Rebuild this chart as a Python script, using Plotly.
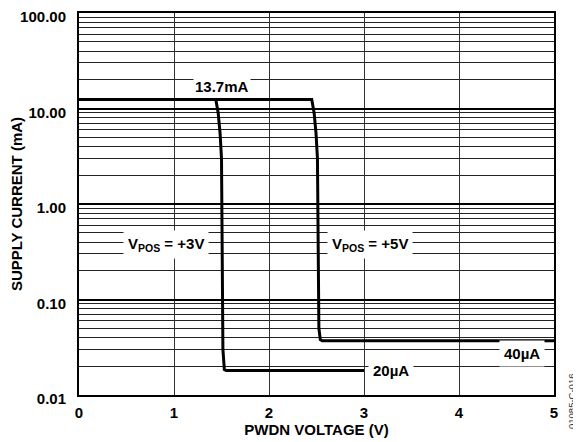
import math
import plotly.graph_objects as go

# Data
v3_x = [0, 1.44, 1.465, 1.485, 1.50, 1.505, 1.51, 1.515, 1.53, 1.55, 3.0]
v3_y = [12.4, 12.4, 9.0, 5.5, 3.0, 1.0, 0.1, 0.03, 0.0185, 0.018, 0.018]
v5_x = [0, 2.45, 2.475, 2.495, 2.51, 2.515, 2.52, 2.525, 2.54, 2.56, 5.0]
v5_y = [12.4, 12.4, 9.0, 5.5, 3.0, 1.0, 0.2, 0.05, 0.038, 0.037, 0.037]

y_major = [0.01, 0.1, 1, 10, 100]
y_major_text = ["0.01", "0.10", "1.00", "10.00", "100.00"]
y_minor = [m * d for d in [0.01, 0.1, 1, 10] for m in range(2, 10)]
x_ticks = [0, 1, 2, 3, 4, 5]

labels = [
    (1.505, 17.2, "13.7mA"),
    (0.92, 0.38, "V<sub>POS</sub> = +3V"),
    (3.06, 0.38, "V<sub>POS</sub> = +5V"),
    (3.28, 0.0182, "20µA"),
    (4.66, 0.0274, "40µA"),
]

font_family = "Liberation Sans, Arial, sans-serif"

fig = go.Figure()
fig.add_trace(go.Scatter(x=v3_x, y=v3_y, mode="lines",
                         line=dict(color="black", width=3), showlegend=False))
fig.add_trace(go.Scatter(x=v5_x, y=v5_y, mode="lines",
                         line=dict(color="black", width=3), showlegend=False))

for i, (x, y, t) in enumerate(labels):
    fig.add_annotation(x=x, y=math.log10(y), yref="y", xref="x", text="<b>" + t + "</b>",
                       showarrow=False, bgcolor="white", borderpad=1 if i == 0 else 4,
                       font=dict(size=15, color="black", family=font_family))

fig.add_annotation(x=1.0, xref="paper", xanchor="left", xshift=10,
                   y=0.0, yref="paper", yanchor="bottom", yshift=-36,
                   text="01085-C-016", textangle=-90, showarrow=False,
                   font=dict(size=9.5, color="#333333", family=font_family))

fig.update_xaxes(range=[0, 5], tickvals=x_ticks, showgrid=True,
                 gridcolor="#333333", gridwidth=1, zeroline=False,
                 showline=True, mirror=True, linecolor="black", linewidth=2,
                 ticks="outside", ticklen=3, tickcolor="rgba(0,0,0,0)",
                 automargin=False, ticklabeloverflow="allow",
                 tickfont=dict(size=15, color="black", family=font_family, weight="bold"),
                 title=dict(text="<b>PWDN VOLTAGE (V)</b>", standoff=3,
                            font=dict(size=15, color="black", family=font_family)))
fig.update_yaxes(type="log", range=[-2, 2], tickvals=y_major, ticktext=y_major_text,
                 showgrid=True, gridcolor="black", gridwidth=2, zeroline=False,
                 showline=True, mirror=True, linecolor="black", linewidth=2,
                 ticks="outside", ticklen=8, tickcolor="rgba(0,0,0,0)",
                 automargin=False, ticklabeloverflow="allow", ticklabelshift=4,
                 tickfont=dict(size=15, color="black", family=font_family, weight="bold"),
                 minor=dict(tickvals=y_minor, showgrid=True, gridcolor="#222222",
                            gridwidth=1, ticks=""),
                 title=dict(text="<b>SUPPLY CURRENT (mA)</b>", standoff=2,
                            font=dict(size=15, color="black", family=font_family)))

# page body has an 8px margin, so the figure is sized to fit the window
fig.update_layout(width=573, height=434,
                  margin=dict(l=71, r=27, t=5, b=47),
                  plot_bgcolor="white", paper_bgcolor="white",
                  font=dict(family=font_family, color="black"))

fig.write_html("out.html")
